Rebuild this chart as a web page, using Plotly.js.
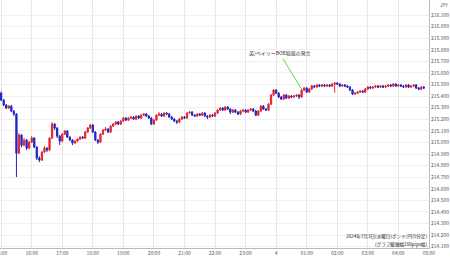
<!DOCTYPE html>
<html><head><meta charset="utf-8">
<script src="https://cdn.plot.ly/plotly-3.0.1.min.js"></script>
<style>html,body{margin:0;padding:0;background:#fff}#chart{width:450px;height:258px}</style>
</head><body><div id="chart"></div>
<script>
const startTime = "2024-07-03 15:00";
const stepMinutes = 5;
const openVals = [215.426,215.366,215.323,215.297,215.314,215.271,215.245,214.908,215.064,214.977,
215.021,214.951,215.003,215.038,214.960,214.865,214.848,214.917,214.951,214.934,
215.038,215.159,215.124,215.055,215.012,215.072,215.098,215.046,215.021,214.995,
215.012,215.029,215.046,215.038,215.090,215.124,215.150,215.090,215.021,215.003,
215.072,215.107,215.116,215.090,215.141,215.159,215.176,215.159,215.185,215.211,
215.193,215.211,215.219,215.202,215.228,215.211,215.236,215.245,215.228,215.211,
215.159,215.193,215.236,215.245,215.228,215.254,215.245,215.219,215.202,215.185,
215.176,215.202,215.219,215.211,215.254,215.262,215.236,215.228,215.245,215.236,
215.254,215.228,215.219,215.236,215.228,215.254,215.280,215.297,215.280,215.306,
215.288,215.262,215.280,215.262,215.245,215.271,215.280,215.262,215.280,215.288,
215.271,215.236,215.271,215.314,215.288,215.280,215.331,215.409,215.452,215.426,
215.392,215.375,215.409,215.383,215.401,215.392,215.401,215.409,215.392,215.452,
215.470,215.435,215.461,215.487,215.480,215.496,215.487,215.496,215.487,215.496,
215.487,215.504,215.513,215.504,215.487,215.496,215.487,215.478,215.452,215.418,
215.426,215.435,215.444,215.435,215.461,215.478,215.470,215.478,215.487,215.478,
215.487,215.478,215.487,215.496,215.487,215.504,215.487,215.496,215.487,215.480,
215.496,215.478,215.487,215.496,215.470,215.461,215.478];
const highVals = [215.440,215.375,215.331,215.323,215.323,215.280,215.254,215.081,215.072,215.038,
215.029,215.012,215.055,215.046,214.968,214.882,214.925,214.968,214.960,215.046,
215.176,215.167,215.133,215.064,215.081,215.107,215.107,215.055,215.029,215.021,
215.038,215.055,215.055,215.098,215.133,215.159,215.159,215.098,215.029,215.081,
215.116,215.133,215.124,215.150,215.167,215.185,215.185,215.193,215.219,215.219,
215.219,215.228,215.228,215.236,215.236,215.245,215.254,215.254,215.236,215.219,
215.202,215.245,215.262,215.254,215.262,215.262,215.254,215.228,215.211,215.193,
215.211,215.228,215.228,215.262,215.271,215.271,215.245,215.254,215.254,215.262,
215.262,215.236,215.245,215.245,215.262,215.288,215.306,215.306,215.314,215.314,
215.297,215.288,215.288,215.271,215.280,215.288,215.288,215.288,215.297,215.297,
215.280,215.280,215.323,215.323,215.297,215.340,215.418,215.461,215.461,215.435,
215.401,215.418,215.418,215.409,215.409,215.409,215.418,215.418,215.461,215.478,
215.478,215.470,215.496,215.496,215.504,215.504,215.504,215.504,215.504,215.504,
215.513,215.521,215.521,215.513,215.504,215.504,215.496,215.487,215.461,215.435,
215.444,215.452,215.452,215.470,215.487,215.487,215.487,215.496,215.496,215.496,
215.496,215.496,215.504,215.504,215.513,215.513,215.504,215.504,215.496,215.504,
215.504,215.496,215.504,215.504,215.478,215.487,215.487];
const lowVals = [215.357,215.314,215.288,215.288,215.262,215.228,214.701,214.899,214.960,214.968,
214.934,214.942,214.995,214.951,214.848,214.830,214.839,214.908,214.917,214.925,
215.029,215.107,215.038,214.977,215.003,215.064,215.038,215.012,214.977,214.986,
215.003,215.021,215.029,215.029,215.081,215.116,215.081,215.012,214.986,214.995,
215.064,215.098,215.081,215.081,215.133,215.150,215.150,215.150,215.176,215.185,
215.185,215.202,215.193,215.193,215.202,215.202,215.228,215.219,215.202,215.150,
215.150,215.185,215.228,215.219,215.219,215.236,215.211,215.193,215.176,215.159,
215.167,215.193,215.202,215.202,215.245,215.228,215.219,215.219,215.228,215.228,
215.219,215.202,215.211,215.219,215.219,215.245,215.271,215.271,215.271,215.280,
215.245,215.254,215.254,215.236,215.236,215.262,215.254,215.254,215.271,215.262,
215.228,215.228,215.262,215.280,215.271,215.271,215.323,215.401,215.418,215.383,
215.366,215.366,215.375,215.375,215.383,215.383,215.392,215.375,215.383,215.444,
215.426,215.426,215.452,215.470,215.470,215.478,215.478,215.478,215.478,215.478,
215.478,215.430,215.496,215.478,215.478,215.478,215.470,215.444,215.409,215.409,
215.418,215.426,215.426,215.426,215.452,215.461,215.461,215.470,215.470,215.470,
215.470,215.470,215.478,215.478,215.478,215.478,215.478,215.478,215.470,215.470,
215.470,215.470,215.478,215.461,215.452,215.452,215.461];
const closeVals = [215.366,215.323,215.297,215.314,215.271,215.245,214.908,215.064,214.977,215.021,
214.951,215.003,215.038,214.960,214.865,214.848,214.917,214.951,214.934,215.038,
215.159,215.124,215.055,215.012,215.072,215.098,215.046,215.021,214.995,215.012,
215.029,215.046,215.038,215.090,215.124,215.150,215.090,215.021,215.003,215.072,
215.107,215.116,215.090,215.141,215.159,215.176,215.159,215.185,215.211,215.193,
215.211,215.219,215.202,215.228,215.211,215.236,215.245,215.228,215.211,215.159,
215.193,215.236,215.245,215.228,215.254,215.245,215.219,215.202,215.185,215.176,
215.202,215.219,215.211,215.254,215.262,215.236,215.228,215.245,215.236,215.254,
215.228,215.219,215.236,215.228,215.254,215.280,215.297,215.280,215.306,215.288,
215.262,215.280,215.262,215.245,215.271,215.280,215.262,215.280,215.288,215.271,
215.236,215.271,215.314,215.288,215.280,215.331,215.409,215.452,215.426,215.392,
215.375,215.409,215.383,215.401,215.392,215.401,215.409,215.392,215.452,215.470,
215.435,215.461,215.487,215.480,215.496,215.487,215.496,215.487,215.496,215.487,
215.504,215.513,215.504,215.487,215.496,215.487,215.478,215.452,215.418,215.426,
215.435,215.444,215.435,215.461,215.478,215.470,215.478,215.487,215.478,215.487,
215.478,215.487,215.496,215.487,215.504,215.487,215.496,215.487,215.480,215.496,
215.478,215.487,215.496,215.470,215.461,215.478,215.470];
const tickTimes = ["2024-07-03 15:00","2024-07-03 16:00","2024-07-03 17:00","2024-07-03 18:00","2024-07-03 19:00",
"2024-07-03 20:00","2024-07-03 21:00","2024-07-03 22:00","2024-07-03 23:00","2024-07-04 00:00","2024-07-04 01:00",
"2024-07-04 02:00","2024-07-04 03:00","2024-07-04 04:00","2024-07-04 05:00"];
const tickLabels = ["15:00","16:00","17:00","18:00","19:00","20:00","21:00","22:00","23:00","4","01:00","02:00","03:00","04:00","05:00"];
const yTickVals = [214.1,214.2,214.3,214.4,214.5,214.6,214.7,214.8,214.9,215.0,215.1,215.2,215.3,215.4,215.5,215.6,215.7,215.8,215.9,216.0,216.1];
const yTickLabels = ["214.100","214.200","214.300","214.400","214.500","214.600","214.700","214.800","214.900","215.000","215.100","215.200","215.300","215.400","215.500","215.600","215.700","215.800","215.900","216.000","216.100"];
const eventLabel = "英)ベイリーBOE総裁の発言";
const eventTime = "2024-07-04 00:50";
const eventPrice = 215.46;
const captionLines = ["2024年7月3日(水曜日)ポンド/円(5分足)", "(グラフ縦軸幅200pips幅)"];
const unitLabel = "JPY";

const base = new Date(startTime.replace(' ', 'T') + ':00Z').getTime();
const times = closeVals.map((_, i) => new Date(base + i * stepMinutes * 60000).toISOString().slice(0, 16).replace('T', ' '));

const trace = {
  type: 'candlestick', x: times, open: openVals, high: highVals, low: lowVals, close: closeVals,
  increasing: {line: {color: '#e3252f', width: 1}, fillcolor: '#e3252f'},
  decreasing: {line: {color: '#2323c8', width: 1}, fillcolor: '#2323c8'},
  whiskerwidth: 0, hoverinfo: 'skip'
};
const jp = '"Noto Sans CJK JP", "Noto Sans", sans-serif';
const layout = {
  width: 450, height: 258,
  margin: {l: 0, r: 21, t: 0, b: 10},
  paper_bgcolor: '#ffffff', plot_bgcolor: '#ffffff',
  showlegend: false,
  font: {family: jp, size: 5, color: '#555'},
  xaxis: {
    type: 'date', range: ["2024-07-03 14:57:44", "2024-07-04 05:00:12"],
    rangeslider: {visible: false},
    tickmode: 'array', tickvals: tickTimes, ticktext: tickLabels,
    tickfont: {size: 5, color: '#555'}, ticks: '', ticklabeloverflow: 'allow',
    showgrid: true, gridcolor: '#e8e8e8', gridwidth: 1,
    showline: true, linecolor: '#bbbbbb', linewidth: 1, zeroline: false
  },
  yaxis: {
    side: 'right', range: [214.089, 216.23],
    tickmode: 'array', tickvals: yTickVals, ticktext: yTickLabels,
    tickfont: {size: 5, color: '#555'}, ticks: '',
    showgrid: true, gridcolor: '#f0f0f0', gridwidth: 1,
    showline: true, linecolor: '#bbbbbb', linewidth: 1, zeroline: false, mirror: false
  },
  annotations: [
    {x: eventTime, y: eventPrice, xref: 'x', yref: 'y', text: eventLabel, showarrow: true,
     arrowhead: 0, arrowwidth: 1, arrowcolor: '#5cd83a', ax: -22, ay: -36, standoff: 0,
     font: {size: 5, color: '#333', family: jp}},
    {x: 1, y: 0.045, xref: 'paper', yref: 'paper', xanchor: 'right', yanchor: 'middle', showarrow: false,
     text: captionLines[0], font: {size: 4.6, color: '#222', family: jp}},
    {x: 1, y: 0.015, xref: 'paper', yref: 'paper', xanchor: 'right', yanchor: 'middle', showarrow: false,
     text: captionLines[1], font: {size: 4.6, color: '#222', family: jp}},
    {x: 1.02, y: 0.98, xref: 'paper', yref: 'paper', xanchor: 'left', yanchor: 'middle', showarrow: false,
     text: unitLabel, font: {size: 4.6, color: '#555', family: jp}}
  ]
};
Plotly.newPlot('chart', [trace], layout, {staticPlot: true, displayModeBar: false});
</script></body></html>
